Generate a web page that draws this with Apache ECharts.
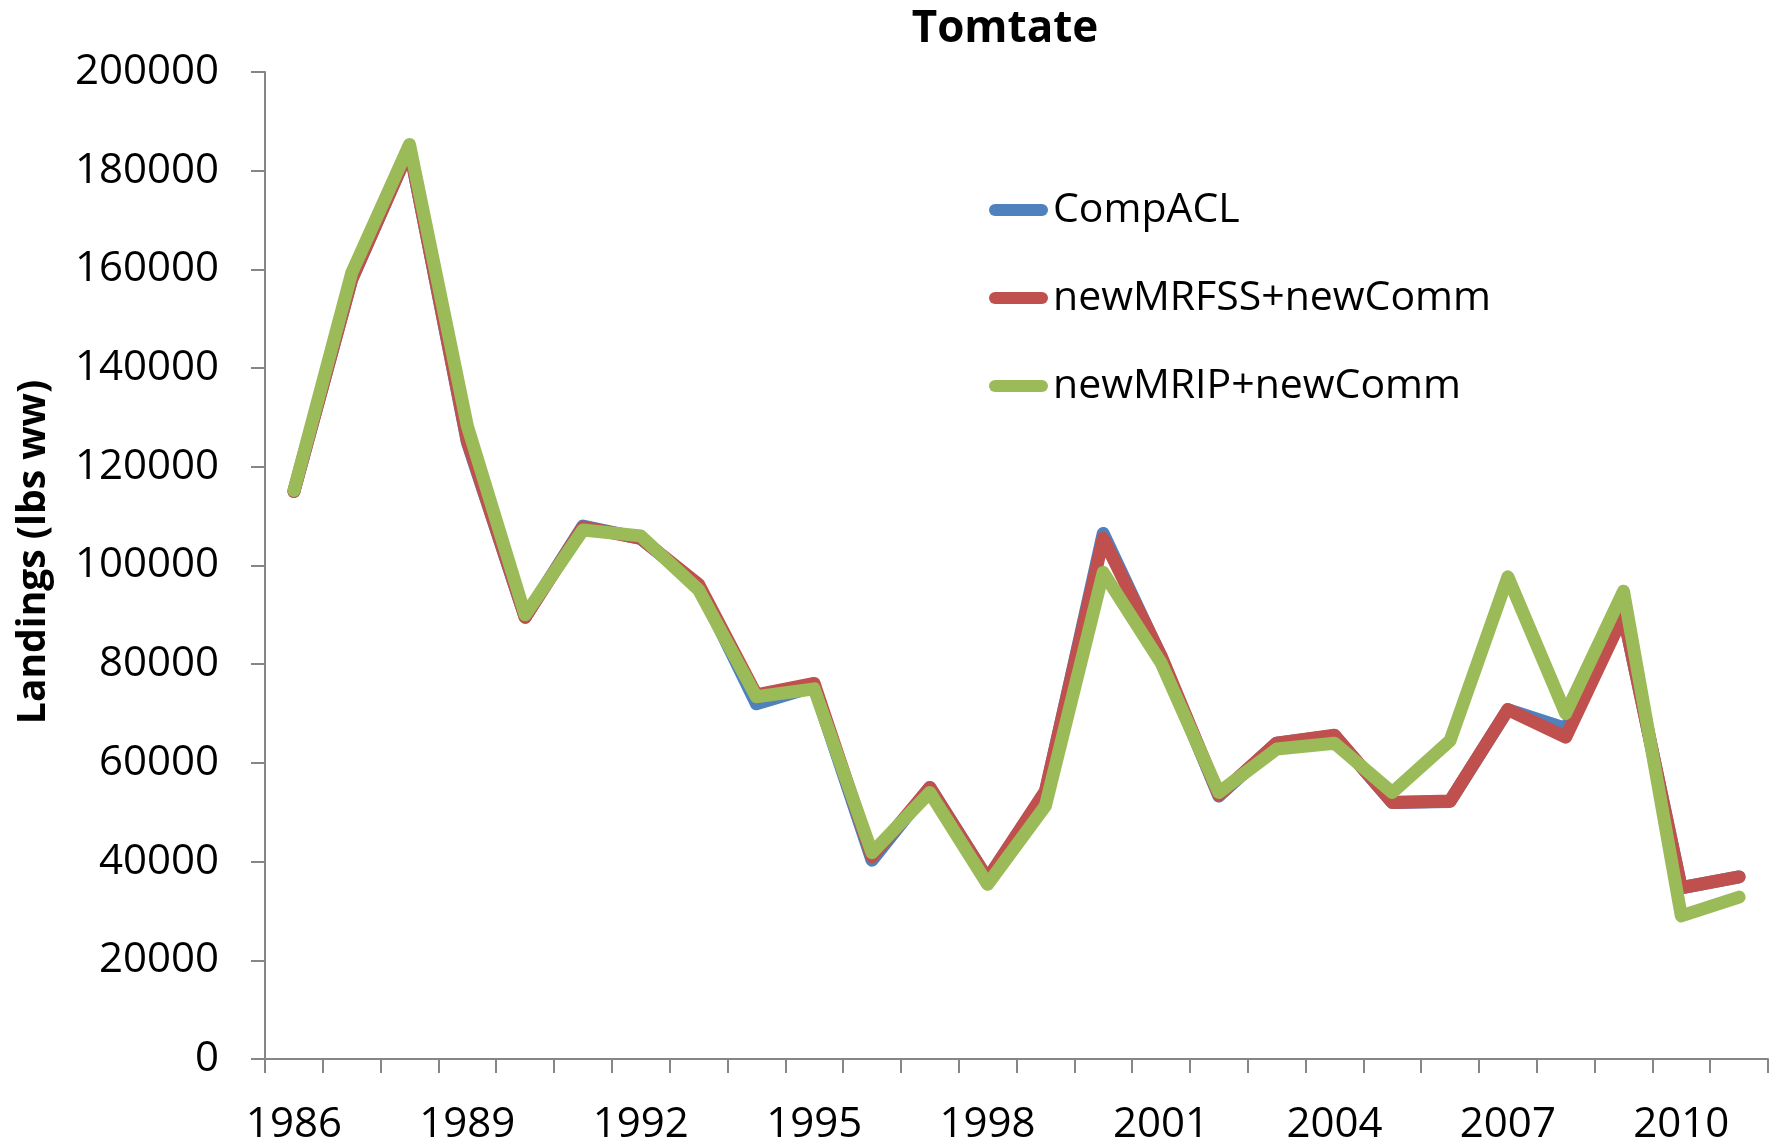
<!DOCTYPE html>
<html>
<head>
<meta charset="utf-8">
<script src="https://cdn.jsdelivr.net/npm/echarts@6/dist/echarts.min.js"></script>
<style>
html,body{margin:0;padding:0;background:#fff;}
#c{width:1785px;height:1146px;}
</style>
</head>
<body>
<div id="c"></div>
<script>
const years = ['1986','1987','1988','1989','1990','1991','1992','1993','1994','1995','1996','1997','1998','1999','2000','2001','2002','2003','2004','2005','2006','2007','2008','2009','2010','2011'];
const compACL = [115000,158000,184500,125000,89500,108000,105500,96000,72000,75500,40300,55000,36500,54000,106500,81500,53300,64000,65500,52000,52200,70800,67000,90000,34700,36900];
const newMRFSS = [115000,158000,184500,125300,89500,107800,105500,96200,73800,76100,41000,55000,36500,54300,105500,81700,53500,64000,65600,52000,52300,70800,65200,90000,34700,36900];
const newMRIP = [115200,159300,185300,128300,90000,107200,106000,95100,73400,75000,41800,54000,35400,51300,98600,80300,54000,62800,64000,54000,64500,97700,70000,94800,29000,32800];
const yTicks = {min:0, max:200000, step:20000};
const titleText = 'Tomtate';
const yName = 'Landings (lbs ww)';

const FONT = '"Open Sans", "Noto Sans", sans-serif';
const chart = echarts.init(document.getElementById('c'), null, {renderer:'canvas'});
const capsule = 'path://M6,0 H53 A6,6 0 0 1 53,12 H6 A6,6 0 0 1 6,0 Z';
function line(name, data, color){
  return {name:name, type:'line', data:data, symbol:'none', smooth:false,
    lineStyle:{width:13, color:color, cap:'round', join:'round'},
    itemStyle:{color:color}, emphasis:{disabled:true}, animation:false};
}
chart.setOption({
  animation:false,
  backgroundColor:'#ffffff',
  title:{text:titleText, left:1000, top:2, textAlign:'center',
    textStyle:{fontFamily:FONT, fontWeight:'bold', fontSize:44, color:'#000'}},
  legend:{orient:'vertical', left:984, top:183, itemGap:44, itemWidth:59, itemHeight:12,
    textStyle:{fontFamily:FONT, fontSize:41, color:'#000', lineHeight:44},
    data:[{name:'CompACL', icon:capsule},{name:'newMRFSS+newComm', icon:capsule},{name:'newMRIP+newComm', icon:capsule}]},
  grid:{left:265, top:72, right:17, bottom:84, containLabel:false},
  xAxis:{type:'category', data:years, boundaryGap:true,
    axisLine:{lineStyle:{color:'#868686', width:2}},
    axisTick:{show:true, interval:0, length:14, lineStyle:{color:'#868686', width:2}},
    axisLabel:{interval:2, margin:45, fontFamily:FONT, fontSize:42, color:'#000'},
    splitLine:{show:false}},
  yAxis:{type:'value', min:yTicks.min, max:yTicks.max, interval:yTicks.step,
    axisLine:{show:true, lineStyle:{color:'#868686', width:2}},
    axisTick:{show:true, length:14, lineStyle:{color:'#868686', width:2}},
    axisLabel:{margin:46, fontFamily:FONT, fontSize:42, color:'#000', formatter:function(v){return String(v);}},
    splitLine:{show:false}},
  graphic:[{type:'text', x:34, y:552, rotation:Math.PI/2,
    style:{text:yName, fontFamily:FONT, fontWeight:'bold', fontSize:39, fill:'#000', textAlign:'center', textVerticalAlign:'middle'}}],
  series:[line('CompACL', compACL, '#4F81BD'), line('newMRFSS+newComm', newMRFSS, '#C0504D'), line('newMRIP+newComm', newMRIP, '#9BBB59')]
});
</script>
</body>
</html>
